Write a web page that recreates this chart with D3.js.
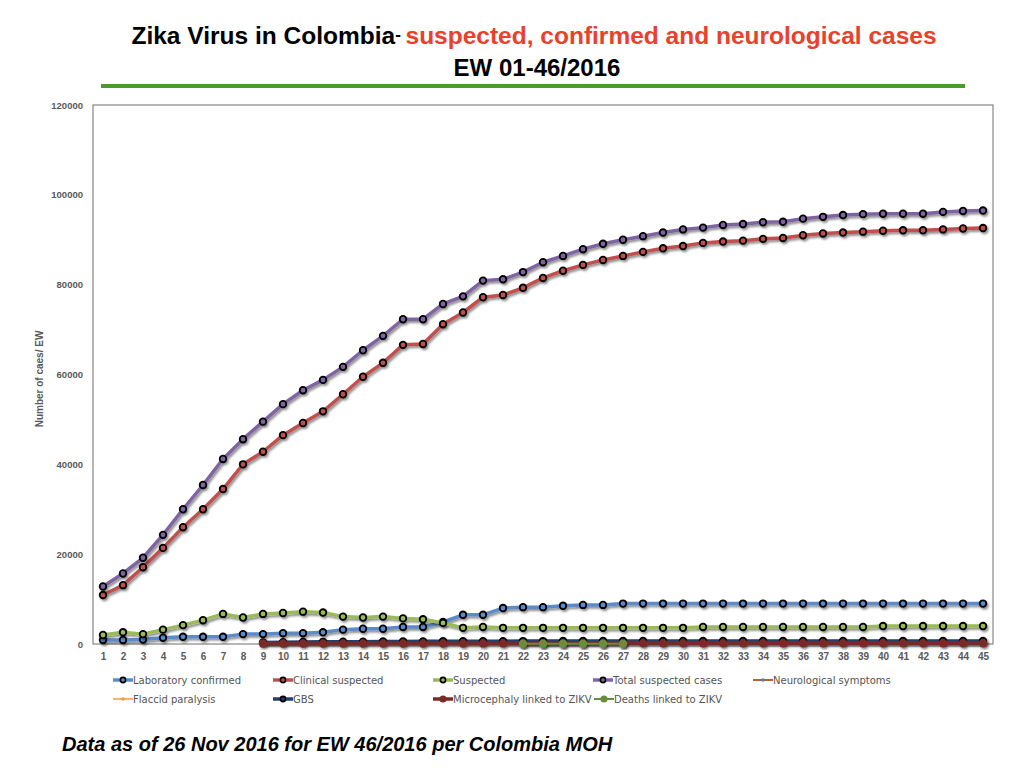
<!DOCTYPE html>
<html>
<head>
<meta charset="utf-8">
<script src="https://cdn.jsdelivr.net/npm/d3@7"></script>
<style>
  body { margin: 0; background: #fff; }
  svg { display: block; }
</style>
</head>
<body>
<div id="chart"></div>
<script>
// epidemiological weeks on the x axis
var weeks = d3.range(1, 46);
var yTicks = [0, 20000, 40000, 60000, 80000, 100000, 120000];

// values, one entry per week (null = not plotted)
var labConfirmed = [900, 900, 1000, 1400, 1600, 1600, 1600, 2200, 2200, 2400,
    2400, 2600, 3200, 3400, 3400, 3800, 3800, 4900, 6500, 6500,
    8000, 8200, 8200, 8500, 8700, 8700, 9000, 9000, 9000, 9000,
    9000, 9000, 9000, 9000, 9000, 9000, 9000, 9000, 9000, 9000,
    9000, 9000, 9000, 9000, 9000];
var clinicalSuspected = [10900, 13100, 17100, 21400, 26000, 30000, 34500, 40000, 42800, 46500,
    49200, 51800, 55600, 59500, 62600, 66600, 66800, 71200, 73800, 77200,
    77700, 79300, 81500, 83100, 84400, 85500, 86400, 87300, 88100, 88600,
    89300, 89600, 89800, 90200, 90400, 91000, 91400, 91600, 91800, 92000,
    92100, 92100, 92300, 92500, 92600];
var suspected = [2000, 2600, 2200, 3200, 4200, 5300, 6700, 5900, 6700, 6900,
    7200, 7000, 6100, 5900, 6100, 5700, 5500, 4700, 3600, 3800,
    3600, 3600, 3600, 3600, 3600, 3600, 3600, 3600, 3600, 3600,
    3800, 3800, 3800, 3800, 3800, 3800, 3800, 3800, 3800, 4000,
    4000, 4000, 4000, 4000, 4000];
var totalSuspected = [12800, 15700, 19200, 24300, 30000, 35400, 41200, 45600, 49500, 53400,
    56500, 58800, 61700, 65400, 68600, 72300, 72300, 75700, 77400, 80900,
    81200, 82800, 85000, 86400, 87900, 89100, 90000, 90800, 91600, 92300,
    92700, 93300, 93500, 93900, 94000, 94700, 95100, 95500, 95700, 95800,
    95800, 95800, 96200, 96400, 96500];
var neuroSymptoms = [null, null, null, null, null, null, null, null, 300, 350,
    400, 420, 450, 480, 500, 520, 540, 560, 580, 600,
    600, 620, 620, 640, 640, 650, 650, 650, 650, 650,
    650, 650, 650, 650, 650, 650, 650, 650, 650, 650,
    650, 650, 650, 650, 650];
var flaccidParalysis = [null, null, null, null, null, null, null, null, 20, 20,
    20, 20, 20, 20, 20, 20, 20, 20, 20, 20,
    20, 20, 20, 20, 20, 20, 20, 20, 20, 20,
    20, 20, 20, 20, 20, 20, 20, 20, 20, 20,
    20, 20, 20, 20, 20];
var gbs = [null, null, null, null, null, null, null, null, 350, 400,
    450, 480, 500, 520, 550, 570, 590, 600, 620, 630,
    640, 650, 650, 660, 660, 670, 670, 680, 680, 680,
    680, 680, 680, 680, 680, 680, 680, 680, 680, 680,
    680, 680, 680, 680, 680];
var microcephaly = [null, null, null, null, null, null, null, null, 100, 100,
    100, 100, 100, 100, 110, 110, 120, 120, 120, 130,
    130, 130, 130, 140, 140, 140, 150, 150, 150, 150,
    150, 150, 150, 160, 160, 160, 160, 160, 160, 160,
    160, 160, 160, 160, 160];
var deaths = [null, null, null, null, null, null, null, null, null, null,
    null, null, null, null, null, null, null, null, null, null,
    null, 60, 60, 70, 70, 70, 70, null, null, null,
    null, null, null, null, null, null, null, null, null, null,
    null, null, null, null, null];

// draw order = legend order, later series sit on top
var seriesNames = ["Laboratory confirmed", "Clinical suspected", "Suspected", "Total suspected cases",
    "Neurological symptoms", "Flaccid paralysis", "GBS", "Microcephaly linked to ZIKV", "Deaths linked to ZIKV"];
var seriesValues = [labConfirmed, clinicalSuspected, suspected, totalSuspected,
    neuroSymptoms, flaccidParalysis, gbs, microcephaly, deaths];
var seriesColors = ["#5b8bcb", "#c0504d", "#9bbb59", "#8064a2",
    "#b5652b", "#f79646", "#253f6b", "#7a2b27", "#6b8c3a"];
var lineWidths = [3.5, 3.5, 3.5, 3.5, 2, 1.5, 3.5, 3.5, 2];
// marker kind: ring = black outlined dot, small = tiny dot, filled = solid dot
var markerKinds = ["ring", "ring", "ring", "ring", "small", "small", "ring", "filled", "filled"];

var width = 1024;
var height = 768;
var plotLeft = 93, plotRight = 993, plotTop = 105, plotBottom = 644;

var svg = d3.select("#chart")
    .append("svg")
    .attr("width", width)
    .attr("height", height)
    .attr("viewBox", [0, 0, width, height])
    .style("font-family", "'Liberation Sans', Arial, sans-serif");

var defs = svg.append("defs");
var shadow = defs.append("filter")
    .attr("id", "shadow")
    .attr("x", "-10%").attr("y", "-10%")
    .attr("width", "130%").attr("height", "130%");
shadow.append("feDropShadow")
    .attr("dx", 1.5).attr("dy", 2)
    .attr("stdDeviation", 1.3)
    .attr("flood-color", "#000")
    .attr("flood-opacity", 0.45);

// ---- title block
var title = svg.append("text")
    .attr("x", 534)
    .attr("y", 44)
    .attr("text-anchor", "middle")
    .style("font-size", "24.5px")
    .style("font-weight", "bold");
title.append("tspan").attr("fill", "#000").text("Zika Virus in Colombia");
title.append("tspan").attr("fill", "#000").attr("dy", -4).style("font-size", "17px").text("- ");
title.append("tspan").attr("fill", "#e8412c").attr("dy", 4).text("suspected, confirmed and neurological cases");

svg.append("text")
    .attr("x", 537)
    .attr("y", 76)
    .attr("text-anchor", "middle")
    .style("font-size", "24px")
    .style("font-weight", "bold")
    .attr("fill", "#000")
    .text("EW 01-46/2016");

svg.append("line")
    .attr("x1", 101).attr("x2", 965)
    .attr("y1", 86).attr("y2", 86)
    .attr("stroke", "#4c9a2a")
    .attr("stroke-width", 4);

// ---- scales
var xScale = d3.scalePoint(weeks, [plotLeft, plotRight]).padding(0.5);
var yScale = d3.scaleLinear([0, 120000], [plotBottom, plotTop]);

// frame
svg.append("rect")
    .attr("x", plotLeft).attr("y", plotTop)
    .attr("width", plotRight - plotLeft)
    .attr("height", plotBottom - plotTop)
    .attr("fill", "none")
    .attr("stroke", "#6e6e6e")
    .attr("stroke-width", 1);

// y axis labels
var yAxis = d3.axisLeft(yScale).tickValues(yTicks).tickSize(0).tickPadding(10).tickFormat(d3.format("d"));
var gy = svg.append("g").attr("transform", "translate(" + plotLeft + ",0)").call(yAxis);
gy.select(".domain").remove();
gy.selectAll("text")
    .style("font-size", "9.5px")
    .style("font-weight", "bold")
    .style("font-family", "'Liberation Sans', Arial, sans-serif")
    .attr("fill", "#595959");

// x axis labels
var xAxis = d3.axisBottom(xScale).tickSize(0).tickPadding(9);
var gx = svg.append("g").attr("transform", "translate(0," + plotBottom + ")").call(xAxis);
gx.select(".domain")
    .attr("stroke", "#7a7a7a")
    .attr("stroke-width", 2)
    .attr("filter", "url(#shadow)");
gx.selectAll("text")
    .style("font-size", "10px")
    .style("font-weight", "bold")
    .style("font-family", "'Liberation Sans', Arial, sans-serif")
    .attr("fill", "#595959");

svg.append("text")
    .attr("transform", "translate(43,379) rotate(-90)")
    .attr("text-anchor", "middle")
    .style("font-size", "10px")
    .style("font-weight", "bold")
    .style("font-family", "'Liberation Sans', Arial, sans-serif")
    .attr("fill", "#595959")
    .text("Number of caes/ EW");

// ---- series
var line = d3.line()
    .defined(d => d.value != null)
    .x(d => xScale(d.week))
    .y(d => yScale(d.value));

function drawMarkers(g, points, kind, color) {
    var dots = g.selectAll("circle")
        .data(points)
        .join("circle")
        .attr("cx", d => xScale(d.week))
        .attr("cy", d => yScale(d.value));
    if (kind === "ring") {
        dots.attr("r", 3.3).attr("fill", color).attr("stroke", "#000").attr("stroke-width", 1.8);
    } else if (kind === "filled") {
        dots.attr("r", 4.2).attr("fill", color).attr("stroke", "none");
    } else {
        dots.attr("r", 2).attr("fill", "#4f81bd").attr("stroke", "none");
    }
}

seriesValues.forEach((values, s) => {
    var points = weeks.map((w, i) => ({week: w, value: values[i]}));
    var g = svg.append("g").attr("filter", "url(#shadow)");
    g.append("path")
        .datum(points)
        .attr("d", line)
        .attr("fill", "none")
        .attr("stroke", seriesColors[s])
        .attr("stroke-width", lineWidths[s])
        .attr("stroke-linejoin", "round");
    drawMarkers(g, points.filter(d => d.value != null), markerKinds[s], seriesColors[s]);
});

// ---- legend
var legendX = [113, 273, 433, 593, 753, 113, 273, 433, 594];
var legendY = [680, 680, 680, 680, 680, 699, 699, 699, 699];

var legend = svg.append("g");
seriesNames.forEach((name, s) => {
    var item = legend.append("g").attr("transform", "translate(" + legendX[s] + "," + legendY[s] + ")");
    item.append("line")
        .attr("x1", 0).attr("x2", 20)
        .attr("stroke", seriesColors[s])
        .attr("stroke-width", lineWidths[s]);
    var kind = markerKinds[s];
    var dot = item.append("circle").attr("cx", 10).attr("cy", 0);
    if (kind === "ring") {
        dot.attr("r", 2.6).attr("fill", seriesColors[s]).attr("stroke", "#000").attr("stroke-width", 1.6);
    } else if (kind === "filled") {
        dot.attr("r", 3.6).attr("fill", seriesColors[s]);
    } else {
        dot.attr("r", 1.8).attr("fill", s === 4 ? "#4f81bd" : seriesColors[s]);
    }
    item.append("text")
        .attr("x", 20)
        .attr("y", 4)
        .style("font-size", "10px")
        .style("font-family", "'DejaVu Sans', sans-serif")
        .attr("fill", "#555")
        .text(name);
});

// ---- footnote
svg.append("text")
    .attr("x", 62)
    .attr("y", 751)
    .style("font-size", "20px")
    .style("font-weight", "bold")
    .style("font-style", "italic")
    .attr("fill", "#000")
    .text("Data as of 26 Nov 2016 for EW 46/2016 per Colombia MOH");
</script>
</body>
</html>
